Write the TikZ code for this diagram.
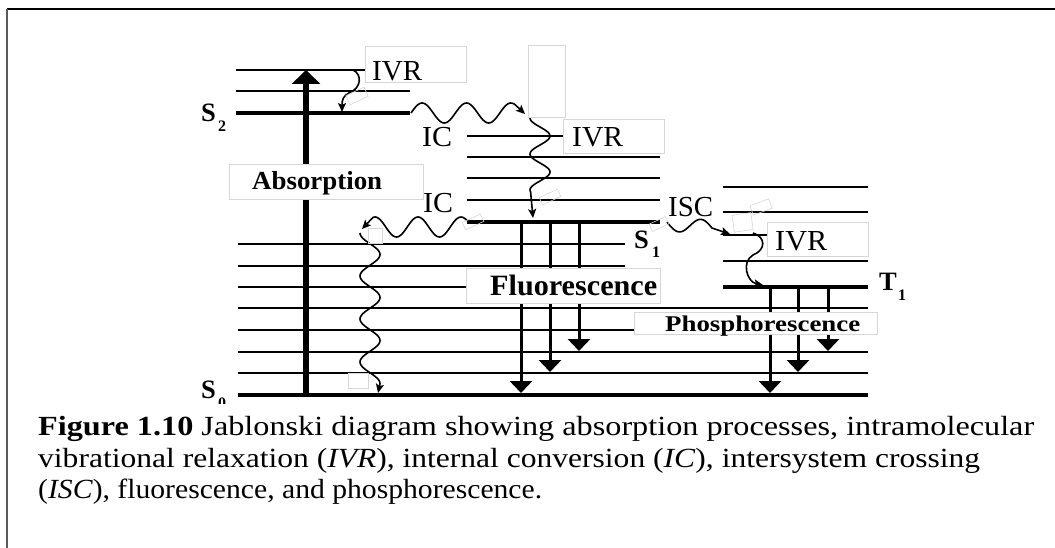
\documentclass[tikz,border=0pt]{standalone}
\usepackage{fontspec}
\setmainfont{Liberation Serif}
\usepackage{graphicx}
\usetikzlibrary{arrows.meta}
\tikzset{
  lvl/.style={line width=2.3pt},
  lvlthick/.style={line width=3.6pt},
  lbox/.style={draw=black!16, line width=0.7pt, fill=white, inner sep=0pt, anchor=north west},
  ghost/.style={draw=black!16, line width=0.6pt},
  absarrow/.style={line width=6pt, -{Triangle[length=14pt,width=28pt]}},
  emarrow/.style={line width=3pt, -{Triangle[length=12pt,width=22pt]}},
  smalltip/.style={-{Stealth[length=9pt,width=8pt,inset=2pt]}},
  wave/.style={line width=1.6pt, smalltip, line join=round},
  lab/.style={anchor=base west, inner sep=0pt, font=\fontsize{29}{30}\selectfont},
  blab/.style={anchor=base west, inner sep=0pt, font=\bfseries\fontsize{26}{30}\selectfont},
  slab/.style={anchor=base west, inner sep=0pt, font=\bfseries\fontsize{26.5}{30}\selectfont},
  sub/.style={anchor=base west, inner sep=0pt, font=\bfseries\fontsize{16}{18}\selectfont},
  captext/.style={anchor=base west, inner sep=0pt, font=\fontsize{27.7}{30}\selectfont},
}
\newcommand{\hstretch}[2]{\resizebox{#1}{\height}{#2}}
\begin{document}
\begin{tikzpicture}[x=1pt,y=-1pt]
\useasboundingbox (0,0) rectangle (1055,548);
\fill[white] (0,0) rectangle (1055,548);
% frame
\draw[line width=1.6pt] (7,9) -- (1055,9);
\draw[line width=1.8pt, black!65] (7,9) -- (7,548);

% ---- S0 levels
\draw[lvl] (238,244) -- (625,244);
\draw[lvl] (238,266) -- (625,266);
\draw[lvl] (238,287) -- (660,287);
\draw[lvl] (238,308) -- (868,308);
\draw[lvl] (238,330) -- (868,330);
\draw[lvl] (238,352) -- (868,352);
\draw[lvl] (238,373) -- (868,373);
\draw[lvlthick] (238,395) -- (868,395);
% ---- S2 levels
\draw[lvl] (236,70) -- (365,70);
\draw[lvl] (236,91) -- (410,91);
\draw[lvlthick] (236,113) -- (410,113);
% ---- S1 levels
\draw[lvl] (467,136) -- (660,136);
\draw[lvl] (467,157) -- (660,157);
\draw[lvl] (467,178) -- (660,178);
\draw[lvl] (467,200) -- (660,200);
\draw[lvlthick] (467,222) -- (660,222);
% ---- T1 levels
\draw[lvl] (723,187) -- (868,187);
\draw[lvl] (723,212) -- (868,212);
\draw[lvl] (723,235) -- (868,235);
\draw[lvl] (723,261) -- (868,261);
\draw[lvlthick] (723,287) -- (868,287);

% ---- coordinates
\coordinate (absA) at (306,395);
\coordinate (absB) at (306,70);
\coordinate (icA) at (411,113);
\coordinate (icB) at (525,114);
\coordinate (ivrA) at (530,118);
\coordinate (ivrB) at (533,218);
\coordinate (ic2A) at (467,220.6);
\coordinate (ic2B) at (362,229);
\coordinate (ic3A) at (360,233);
\coordinate (ic3B) at (378,393);
\coordinate (iscA) at (667,222);
\coordinate (iscB) at (730,234);
\coordinate (ivr2A) at (353,70);
\coordinate (ivr2B) at (342,112);
\coordinate (ivr3A) at (753,233);
\coordinate (ivr3B) at (763,285);
\foreach \x/\y in {521/393, 550/372, 579/351}{
  \coordinate (fa\x) at (\x,222); \coordinate (fb\x) at (\x,\y);}
\foreach \x/\y in {770/393, 798/372, 828/351}{
  \coordinate (pa\x) at (\x,287); \coordinate (pb\x) at (\x,\y);}

% ---- arrows
\draw[absarrow] (absA) -- (absB);
\foreach \x in {521,550,579}{\draw[emarrow] (fa\x) -- (fb\x);}
\foreach \x in {770,798,828}{\draw[emarrow] (pa\x) -- (pb\x);}
% IC (S2 -> S1)
\draw[wave] (icA) -- plot[domain=411:516, samples=80] (\x, {113-10*sin(8.108*(\x-411))}) -- (icB);
% IVR in S1
\draw[wave] (ivrA) -- plot[domain=118:192, samples=70] ({540-10*cos(10*(\x-118))}, \x) -- (ivrB);
% IC (S1 -> S0)
\draw[wave] (ic2A) -- plot[domain=467:373, samples=80] (\x, {227-10*cos(8.372*(\x-418))}) -- (ic2B);
% IVR in S0
\draw[wave] (ic3A) -- plot[domain=233:384, samples=110] ({370-10*cos(8.372*(\x-233))}, \x) -- (ic3B);
% ISC
\draw[wave] (iscA) -- plot[domain=667:712, samples=50] (\x, {222+(\x-667)*0.1587+8*sin(7.826*(\x-667))}) -- (iscB);
% IVR in S2 and T1
\draw[wave] (ivr2A) .. controls (362,74) and (362,88) .. (349,93) .. controls (343,96) and (342,100) .. (ivr2B);
\draw[wave] (ivr3A) .. controls (766,237) and (766,250) .. (753,255) .. controls (741,262) and (747,282) .. (ivr3B);

% ---- faint artifacts
\draw[ghost, rotate around={25:(357,96)}] (347,91) rectangle (367,101);
\draw[ghost, rotate around={25:(473,222)}] (463,218) rectangle (483,226);
\draw[ghost, rotate around={25:(550,197)}] (540,193) rectangle (560,201);
\draw[ghost, rotate around={25:(659,224)}] (650,220) rectangle (668,228);
\draw[ghost, rotate around={8:(742,222)}] (733,214) rectangle (752,231);
\draw[ghost, rotate around={20:(761,207)}] (751,202) rectangle (771,212);
\draw[ghost] (368,228) rectangle (382,243);
\draw[ghost] (348,373) rectangle (368,388);

% ---- label boxes
\node (bIVRa) [lbox, minimum width=101pt, minimum height=36pt] at (365,46) {};
\node (bBlank) [lbox, minimum width=37pt, minimum height=72pt] at (528,45) {};
\node (bIVRb) [lbox, minimum width=101pt, minimum height=34pt] at (563,119) {};
\node (bAbs) [lbox, minimum width=194pt, minimum height=35pt] at (229,164) {};
\node (bFl) [lbox, minimum width=194pt, minimum height=35pt] at (466,268) {};
\node (bPh) [lbox, minimum width=243pt, minimum height=22pt] at (634,312) {};
\node (bIVRc) [lbox, minimum width=101pt, minimum height=34pt] at (767,222) {};

% ---- texts
\node (tIVRa) [lab] at (372,80.5) {\hstretch{50pt}{IVR}};
\node (tIVRb) [lab] at (572,147) {\hstretch{51pt}{IVR}};
\node (tIVRc) [lab] at (775,251) {\hstretch{52pt}{IVR}};
\node (tICa) [lab] at (422,146.7) {\hstretch{30pt}{IC}};
\node (tICb) [lab] at (423,213) {\hstretch{30pt}{IC}};
\node (tISC) [lab] at (668,216.7) {\hstretch{45pt}{ISC}};
\node (tAbs) [blab] at (252,189.3) {\hstretch{130pt}{Absorption}};
\node (tFl) [blab, font=\bfseries\fontsize{29.5}{30}\selectfont] at (490,295) {\hstretch{167pt}{Fluorescence}};
\node (tPh) [blab, font=\bfseries\fontsize{22.5}{24}\selectfont] at (665,331) {\hstretch{195pt}{Phosphorescence}};
\node (tS2) [slab] at (201,122) {S};
\node (tS2s) [sub] at (218,132) {2};
\node (tS1) [slab] at (634,248) {S};
\node (tS1s) [sub] at (652,258) {1};
\node (tT1) [slab] at (879,290) {T};
\node (tT1s) [sub] at (898,300) {1};
\begin{scope}
\clip (150,360) rectangle (260,403);
\node (tS0) [slab] at (201,398) {S};
\node (tS0s) [sub] at (218,408) {0};
\end{scope}

% ---- caption
\node (cap1) [captext] at (38,435.5) {\hstretch{996pt}{\textbf{Figure 1.10} Jablonski diagram showing absorption processes, intramolecular}};
\node (cap2) [captext] at (38,467) {\hstretch{942pt}{vibrational relaxation (\textit{IVR}), internal conversion (\textit{IC}), intersystem crossing}};
\node (cap3) [captext] at (38,498) {\hstretch{504pt}{(\textit{ISC}), fluorescence, and phosphorescence.}};
\end{tikzpicture}
\end{document}
